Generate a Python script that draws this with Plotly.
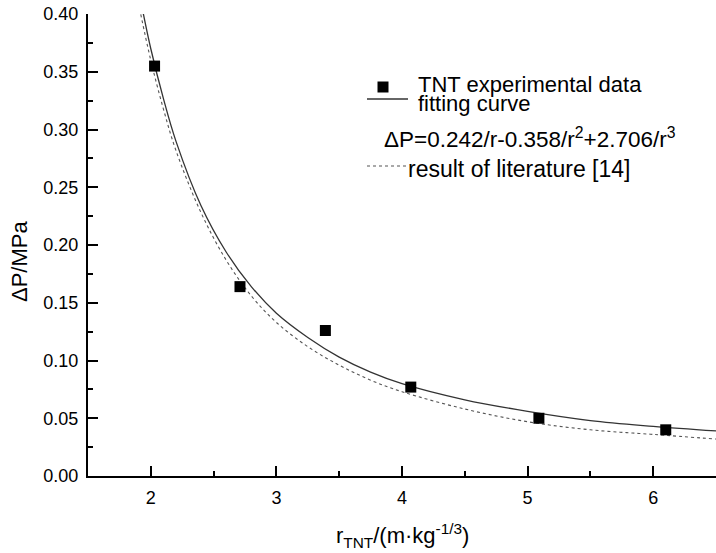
import plotly.graph_objects as go

# Experimental data
exp_r = [2.03, 2.71, 3.39, 4.07, 5.09, 6.10]
exp_dp = [0.355, 0.164, 0.126, 0.077, 0.050, 0.040]

# Fitting curve
fit_r = [1.93, 2.0, 2.1, 2.2, 2.4, 2.6, 2.8, 3.0, 3.25, 3.5, 3.75, 4.0, 4.5, 5.0, 5.5, 6.0, 6.5]
fit_dp = [0.406, 0.370, 0.327, 0.290, 0.234, 0.194, 0.164, 0.141, 0.120, 0.103, 0.090, 0.080,
          0.066, 0.056, 0.048, 0.043, 0.039]

# Result of literature [14]
lit_r = [1.91, 2.0, 2.1, 2.2, 2.4, 2.6, 2.8, 3.0, 3.25, 3.5, 3.75, 4.0, 4.5, 5.0, 5.5, 6.0, 6.5]
lit_dp = [0.405, 0.360, 0.318, 0.282, 0.228, 0.187, 0.156, 0.133, 0.112, 0.096, 0.083, 0.073,
          0.058, 0.047, 0.040, 0.036, 0.032]

W, H = 716, 553
ML, MR, MT, MB = 88, 0, 14, 77
PW, PH = W - ML - MR, H - MT - MB

def px(x):  # window pixel -> paper
    return (x - ML) / PW

def py(y):
    return (H - MB - y) / PH

FONT = "Liberation Sans, Arial, sans-serif"

fig = go.Figure()
fig.add_trace(go.Scatter(x=lit_r, y=lit_dp, mode="lines",
                         line=dict(color="#555555", width=1.1, dash="3px,3px", shape="spline"),
                         showlegend=False))
fig.add_trace(go.Scatter(x=fit_r, y=fit_dp, mode="lines",
                         line=dict(color="#333333", width=1.3, shape="spline"),
                         showlegend=False))
fig.add_trace(go.Scatter(x=exp_r, y=exp_dp, mode="markers",
                         marker=dict(symbol="square", size=11, color="black"),
                         showlegend=False))

axis_common = dict(showline=True, linecolor="black", linewidth=2, ticks="inside", ticklen=10, tickwidth=2,
                   tickcolor="black", showgrid=False, zeroline=False, mirror=False,
                   ticklabeloverflow="allow",
                   tickfont=dict(family=FONT, size=18, color="black"))

fig.update_xaxes(range=[1.5, 6.5], dtick=1, tick0=0, ticklabelstandoff=4,
                 minor=dict(ticks="inside", ticklen=5, tickwidth=2, dtick=0.5, tick0=0, tickcolor="black"),
                 **axis_common)
fig.update_yaxes(range=[0, 0.4001], dtick=0.05, tick0=0, tickformat=".2f", ticklabelstandoff=4,
                 minor=dict(ticks="inside", ticklen=5, tickwidth=2, dtick=0.025, tick0=0, tickcolor="black"),
                 **axis_common)

LF = 22
annotations = [
    dict(text="r<sub>TNT</sub>/(m·kg<sup>-1/3</sup>)", x=px(402), y=py(535), xref="paper", yref="paper",
         showarrow=False, xanchor="center", yanchor="middle", font=dict(family=FONT, size=22, color="black")),
    dict(text="ΔP/MPa", x=px(19), y=py(262), xref="paper", yref="paper", textangle=-90,
         showarrow=False, xanchor="center", yanchor="middle", font=dict(family=FONT, size=22, color="black")),
    dict(text="TNT experimental data", x=px(416), y=py(85), xref="paper", yref="paper",
         showarrow=False, xanchor="left", yanchor="middle", font=dict(family=FONT, size=LF, color="black")),
    dict(text="fitting curve", x=px(416), y=py(104), xref="paper", yref="paper",
         showarrow=False, xanchor="left", yanchor="middle", font=dict(family=FONT, size=LF, color="black")),
    dict(text="ΔP=0.242/r-0.358/r<sup>2</sup>+2.706/r<sup>3</sup>", x=px(382), y=py(138), xref="paper", yref="paper",
         showarrow=False, xanchor="left", yanchor="middle", font=dict(family=FONT, size=22.5, color="black")),
    dict(text="result of literature [14]", x=px(406), y=py(169), xref="paper", yref="paper",
         showarrow=False, xanchor="left", yanchor="middle", font=dict(family=FONT, size=23, color="black")),
]

shapes = [
    dict(type="rect", xref="paper", yref="paper", x0=px(377.5), x1=px(388.5), y0=py(81.5), y1=py(92.5),
         fillcolor="black", line=dict(width=0)),
    dict(type="line", xref="paper", yref="paper", x0=px(367), x1=px(408), y0=py(99), y1=py(99),
         line=dict(color="#333333", width=1.3)),
    dict(type="line", xref="paper", yref="paper", x0=px(367), x1=px(408), y0=py(166), y1=py(166),
         line=dict(color="#555555", width=1.1, dash="3px,3px")),
]

fig.update_layout(width=W, height=H, margin=dict(l=ML, r=MR, t=MT, b=MB, pad=0),
                  paper_bgcolor="white", plot_bgcolor="white",
                  annotations=annotations, shapes=shapes,
                  font=dict(family=FONT, color="black"))

fig.write_html("out.html", config={"displayModeBar": False},
               post_script="document.body.style.margin='0';document.body.style.overflow='hidden';")
